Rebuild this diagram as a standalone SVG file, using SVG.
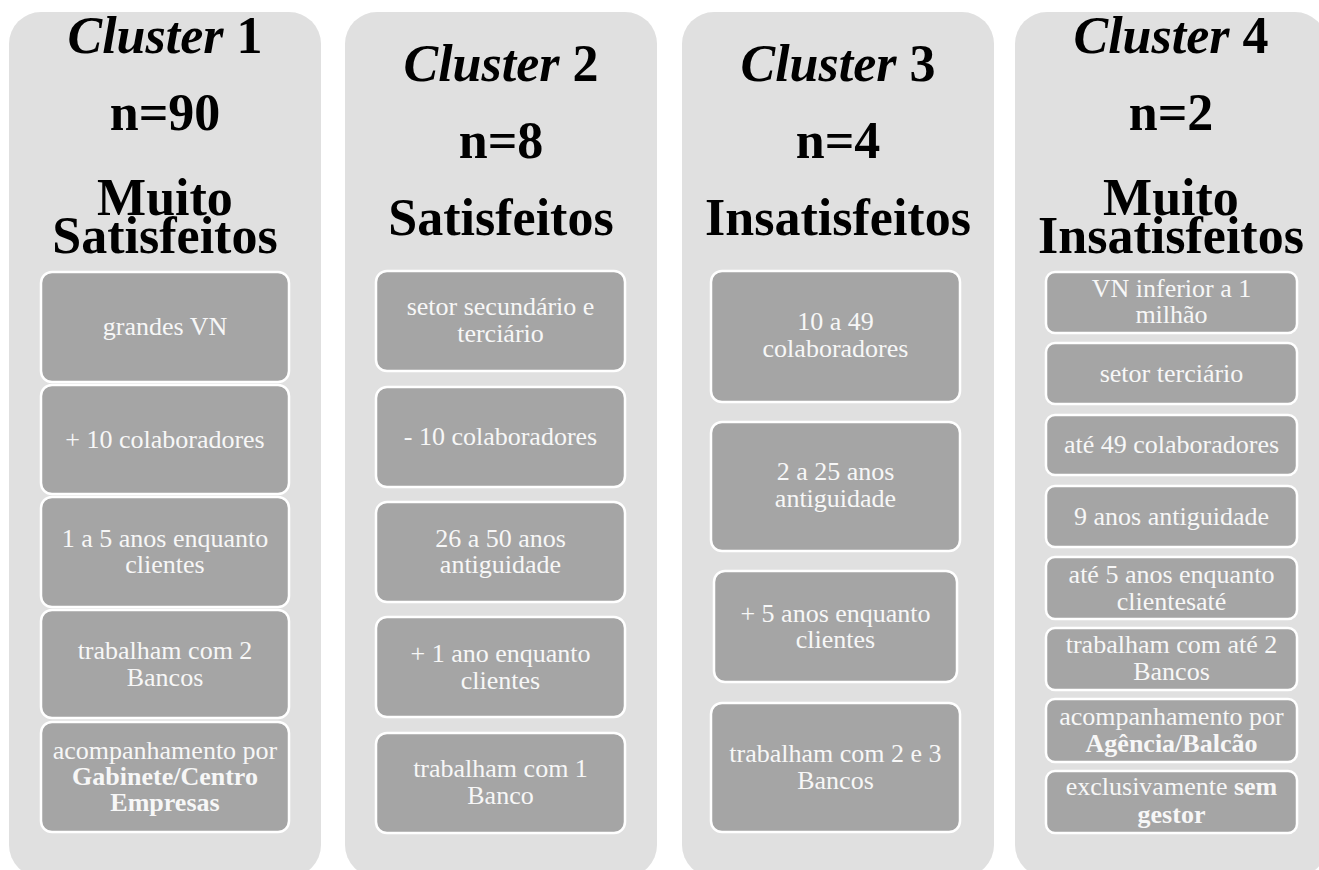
<svg xmlns="http://www.w3.org/2000/svg" width="1319" height="870" viewBox="0 0 1319 870">
<style>
.panel{fill:#e0e0e0}
.box{fill:#a5a5a5;stroke:#ffffff;stroke-width:2.5}
.title{font-family:"Liberation Serif","Times New Roman",serif;font-weight:bold;font-size:52px;fill:#000;text-anchor:middle}
.t{font-family:"Liberation Serif","Times New Roman",serif;font-size:26px;fill:#f7f7f7;text-anchor:middle}
.b{font-weight:bold}
</style>
<rect width="1319" height="870" fill="#ffffff"/>

<g id="cluster1">
<rect class="panel" x="9" y="12" width="312" height="865" rx="32"/>
<text class="title" x="165" y="53"><tspan font-style="italic">Cluster</tspan> 1</text>
<text class="title" x="165" y="130">n=90</text>
<text class="title" x="165" y="215">Muito</text>
<text class="title" x="165" y="253">Satisfeitos</text>
<g id="c1b1"><rect class="box" x="41" y="272" width="248" height="110" rx="11"/><text class="t" x="165" y="335">grandes VN</text></g>
<g id="c1b2"><rect class="box" x="41" y="385" width="248" height="109" rx="11"/><text class="t" x="165" y="448">+ 10 colaboradores</text></g>
<g id="c1b3"><rect class="box" x="41" y="497" width="248" height="110" rx="11"/><text class="t" x="165" y="547">1 a 5 anos enquanto</text><text class="t" x="165" y="573">clientes</text></g>
<g id="c1b4"><rect class="box" x="41" y="610" width="248" height="108" rx="11"/><text class="t" x="165" y="659">trabalham com 2</text><text class="t" x="165" y="686">Bancos</text></g>
<g id="c1b5"><rect class="box" x="41" y="722" width="248" height="110" rx="11"/><text class="t" x="165" y="759">acompanhamento por</text><text class="t b" x="165" y="785">Gabinete/Centro</text><text class="t b" x="165" y="811">Empresas</text></g>
</g>

<g id="cluster2">
<rect class="panel" x="345" y="12" width="312" height="865" rx="32"/>
<text class="title" x="501" y="81"><tspan font-style="italic">Cluster</tspan> 2</text>
<text class="title" x="501" y="158">n=8</text>
<text class="title" x="501" y="235">Satisfeitos</text>
<g id="c2b1"><rect class="box" x="376" y="271" width="249" height="100" rx="11"/><text class="t" x="500.5" y="315">setor secundário e</text><text class="t" x="500.5" y="342">terciário</text></g>
<g id="c2b2"><rect class="box" x="376" y="387" width="249" height="100" rx="11"/><text class="t" x="500.5" y="445">- 10 colaboradores</text></g>
<g id="c2b3"><rect class="box" x="376" y="502" width="249" height="100" rx="11"/><text class="t" x="500.5" y="547">26 a 50 anos</text><text class="t" x="500.5" y="573">antiguidade</text></g>
<g id="c2b4"><rect class="box" x="376" y="617" width="249" height="100" rx="11"/><text class="t" x="500.5" y="662">+ 1 ano enquanto</text><text class="t" x="500.5" y="689">clientes</text></g>
<g id="c2b5"><rect class="box" x="376" y="733" width="249" height="100" rx="11"/><text class="t" x="500.5" y="777">trabalham com 1</text><text class="t" x="500.5" y="804">Banco</text></g>
</g>

<g id="cluster3">
<rect class="panel" x="682" y="12" width="312" height="865" rx="32"/>
<text class="title" x="838" y="81"><tspan font-style="italic">Cluster</tspan> 3</text>
<text class="title" x="838" y="158">n=4</text>
<text class="title" x="838" y="235">Insatisfeitos</text>
<g id="c3b1"><rect class="box" x="711" y="271" width="249" height="131" rx="11"/><text class="t" x="835.5" y="330">10 a 49</text><text class="t" x="835.5" y="357">colaboradores</text></g>
<g id="c3b2"><rect class="box" x="711" y="422" width="249" height="129" rx="11"/><text class="t" x="835.5" y="480">2 a 25 anos</text><text class="t" x="835.5" y="507">antiguidade</text></g>
<g id="c3b3"><rect class="box" x="714" y="571" width="243" height="111" rx="11"/><text class="t" x="835.5" y="622">+ 5 anos enquanto</text><text class="t" x="835.5" y="648">clientes</text></g>
<g id="c3b4"><rect class="box" x="711" y="703" width="249" height="129" rx="11"/><text class="t" x="835.5" y="762">trabalham com 2 e 3</text><text class="t" x="835.5" y="789">Bancos</text></g>
</g>

<g id="cluster4">
<rect class="panel" x="1015" y="12" width="312" height="865" rx="32"/>
<text class="title" x="1171" y="53"><tspan font-style="italic">Cluster</tspan> 4</text>
<text class="title" x="1171" y="130">n=2</text>
<text class="title" x="1171" y="215">Muito</text>
<text class="title" x="1171" y="253">Insatisfeitos</text>
<g id="c4b1"><rect class="box" x="1046" y="272" width="251" height="61" rx="9"/><text class="t" x="1171.5" y="297">VN inferior a 1</text><text class="t" x="1171.5" y="323">milhão</text></g>
<g id="c4b2"><rect class="box" x="1046" y="343" width="251" height="61" rx="9"/><text class="t" x="1171.5" y="382">setor terciário</text></g>
<g id="c4b3"><rect class="box" x="1046" y="415" width="251" height="60" rx="9"/><text class="t" x="1171.5" y="453">até 49 colaboradores</text></g>
<g id="c4b4"><rect class="box" x="1046" y="486" width="251" height="61" rx="9"/><text class="t" x="1171.5" y="525">9 anos antiguidade</text></g>
<g id="c4b5"><rect class="box" x="1046" y="557" width="251" height="62" rx="9"/><text class="t" x="1171.5" y="583">até 5 anos enquanto</text><text class="t" x="1171.5" y="610">clientesaté</text></g>
<g id="c4b6"><rect class="box" x="1046" y="628" width="251" height="62" rx="9"/><text class="t" x="1171.5" y="653">trabalham com até 2</text><text class="t" x="1171.5" y="680">Bancos</text></g>
<g id="c4b7"><rect class="box" x="1046" y="699" width="251" height="63" rx="9"/><text class="t" x="1171.5" y="725">acompanhamento por</text><text class="t b" x="1171.5" y="752">Agência/Balcão</text></g>
<g id="c4b8"><rect class="box" x="1046" y="771" width="251" height="62" rx="9"/><text class="t" x="1171.5" y="795">exclusivamente <tspan class="b">sem</tspan></text><text class="t b" x="1171.5" y="823">gestor</text></g>
</g>

<g id="connectors"></g>
</svg>
